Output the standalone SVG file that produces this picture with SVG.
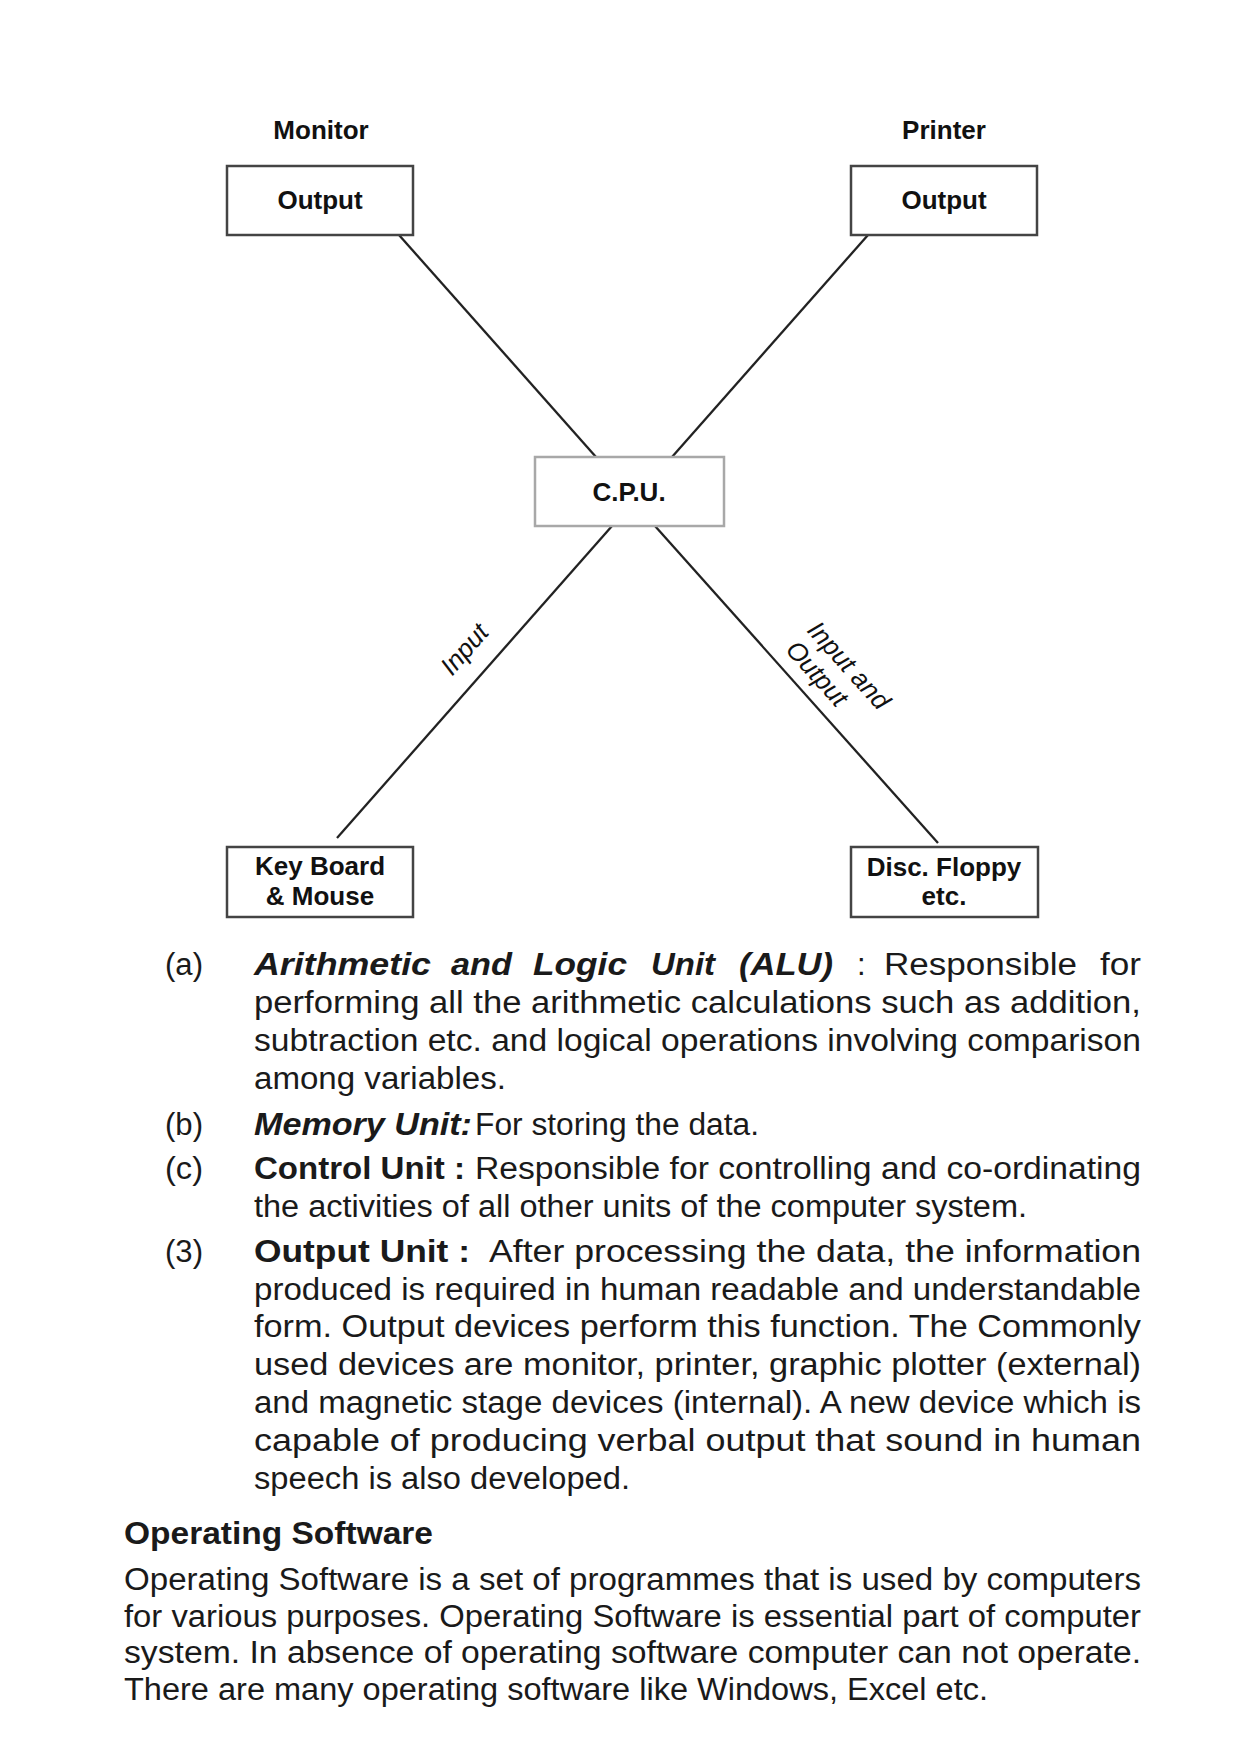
<svg xmlns="http://www.w3.org/2000/svg" width="1240" height="1755" viewBox="0 0 1240 1755">
<style>
.box{fill:#fff;stroke:#444;stroke-width:2.5}
.boxl{fill:#fff;stroke:#a8a8a8;stroke-width:2.5}
.lbl{font-family:"Liberation Sans",Arial,sans-serif;font-weight:bold;font-size:26px;fill:#111;text-anchor:middle}
.it{font-family:"Liberation Sans",Arial,sans-serif;font-style:italic;font-size:26px;fill:#111}
.conn line{stroke:#222;stroke-width:2.3}
.t{font-family:"Liberation Sans",Arial,sans-serif;font-size:31px;fill:#1a1a1a}
.b{font-weight:bold}
.bi{font-weight:bold;font-style:italic}
.hd{font-family:"Liberation Sans",Arial,sans-serif;font-weight:bold;font-size:32px;fill:#1a1a1a}
</style>
<rect width="1240" height="1755" fill="#fff"/>

<g id="connectors" class="conn">
  <line x1="399" y1="235" x2="596" y2="457"/>
  <line x1="868" y1="235" x2="672" y2="457"/>
  <line x1="612" y1="526" x2="337" y2="838"/>
  <line x1="655" y1="526" x2="938" y2="843"/>
  <text class="it" transform="translate(471,655) rotate(-48.6)" text-anchor="middle">Input</text>
  <g transform="translate(806,631) rotate(48)">
    <text class="it" x="0" y="0">Input and</text>
    <text class="it" x="0" y="29">Output</text>
  </g>
</g>

<g id="monitor">
  <text class="lbl" x="321" y="139">Monitor</text>
  <rect class="box" x="227" y="166" width="186" height="69"/>
  <text class="lbl" x="320" y="209">Output</text>
</g>
<g id="printer">
  <text class="lbl" x="944" y="139">Printer</text>
  <rect class="box" x="851" y="166" width="186" height="69"/>
  <text class="lbl" x="944" y="209">Output</text>
</g>
<g id="cpu">
  <rect class="boxl" x="535" y="457" width="189" height="69"/>
  <text class="lbl" x="629" y="501">C.P.U.</text>
</g>
<g id="keyboard">
  <rect class="box" x="227" y="847" width="186" height="70"/>
  <text class="lbl" x="320" y="875">Key Board</text>
  <text class="lbl" x="320" y="905">&amp; Mouse</text>
</g>
<g id="disc">
  <rect class="box" x="851" y="847" width="187" height="70"/>
  <text class="lbl" x="944" y="876">Disc. Floppy</text>
  <text class="lbl" x="944" y="905">etc.</text>
</g>

<g id="text">
  <text class="t" x="165" y="975" textLength="38" lengthAdjust="spacingAndGlyphs">(a)</text>
  <text class="t bi" x="254" y="975" textLength="177" lengthAdjust="spacingAndGlyphs">Arithmetic</text>
  <text class="t bi" x="451" y="975" textLength="61" lengthAdjust="spacingAndGlyphs">and</text>
  <text class="t bi" x="533" y="975" textLength="94" lengthAdjust="spacingAndGlyphs">Logic</text>
  <text class="t bi" x="651" y="975" textLength="64" lengthAdjust="spacingAndGlyphs">Unit</text>
  <text class="t bi" x="739" y="975" textLength="94" lengthAdjust="spacingAndGlyphs">(ALU)</text>
  <text class="t" x="857" y="975">:</text>
  <text class="t" x="884" y="975" textLength="193" lengthAdjust="spacingAndGlyphs">Responsible</text>
  <text class="t" x="1100" y="975" textLength="41" lengthAdjust="spacingAndGlyphs">for</text>
  <text class="t" x="254" y="1013" textLength="887" lengthAdjust="spacingAndGlyphs">performing all the arithmetic calculations such as addition,</text>
  <text class="t" x="254" y="1051" textLength="887" lengthAdjust="spacingAndGlyphs">subtraction etc. and logical operations involving comparison</text>
  <text class="t" x="254" y="1089" textLength="252" lengthAdjust="spacingAndGlyphs">among variables.</text>

  <text class="t" x="165" y="1135" textLength="38" lengthAdjust="spacingAndGlyphs">(b)</text>
  <text class="t bi" x="254" y="1135" textLength="218" lengthAdjust="spacingAndGlyphs">Memory Unit:</text>
  <text class="t" x="475" y="1135" textLength="284" lengthAdjust="spacingAndGlyphs">For storing the data.</text>

  <text class="t" x="165" y="1179" textLength="38" lengthAdjust="spacingAndGlyphs">(c)</text>
  <text class="t b" x="254" y="1179" textLength="211" lengthAdjust="spacingAndGlyphs">Control Unit :</text>
  <text class="t" x="475" y="1179" textLength="666" lengthAdjust="spacingAndGlyphs">Responsible for controlling and co-ordinating</text>
  <text class="t" x="254" y="1217" textLength="773" lengthAdjust="spacingAndGlyphs">the activities of all other units of the computer system.</text>

  <text class="t" x="165" y="1262" textLength="38" lengthAdjust="spacingAndGlyphs">(3)</text>
  <text class="t b" x="254" y="1262" textLength="216" lengthAdjust="spacingAndGlyphs">Output Unit :</text>
  <text class="t" x="489" y="1262" textLength="652" lengthAdjust="spacingAndGlyphs">After processing the data, the information</text>
  <text class="t" x="254" y="1300" textLength="887" lengthAdjust="spacingAndGlyphs">produced is required in human readable and understandable</text>
  <text class="t" x="254" y="1337" textLength="887" lengthAdjust="spacingAndGlyphs">form. Output devices perform this function. The Commonly</text>
  <text class="t" x="254" y="1375" textLength="887" lengthAdjust="spacingAndGlyphs">used devices are monitor, printer, graphic plotter (external)</text>
  <text class="t" x="254" y="1413" textLength="887" lengthAdjust="spacingAndGlyphs">and magnetic stage devices (internal). A new device which is</text>
  <text class="t" x="254" y="1451" textLength="887" lengthAdjust="spacingAndGlyphs">capable of producing verbal output that sound in human</text>
  <text class="t" x="254" y="1489" textLength="376" lengthAdjust="spacingAndGlyphs">speech is also developed.</text>

  <text class="hd" x="124" y="1544" textLength="309" lengthAdjust="spacingAndGlyphs">Operating Software</text>
  <text class="t" x="124" y="1590" textLength="1017" lengthAdjust="spacingAndGlyphs">Operating Software is a set of programmes that is used by computers</text>
  <text class="t" x="124" y="1627" textLength="1017" lengthAdjust="spacingAndGlyphs">for various purposes. Operating Software is essential part of computer</text>
  <text class="t" x="124" y="1663" textLength="1017" lengthAdjust="spacingAndGlyphs">system. In absence of operating software computer can not operate.</text>
  <text class="t" x="124" y="1700" textLength="864" lengthAdjust="spacingAndGlyphs">There are many operating software like Windows, Excel etc.</text>
</g>
</svg>
